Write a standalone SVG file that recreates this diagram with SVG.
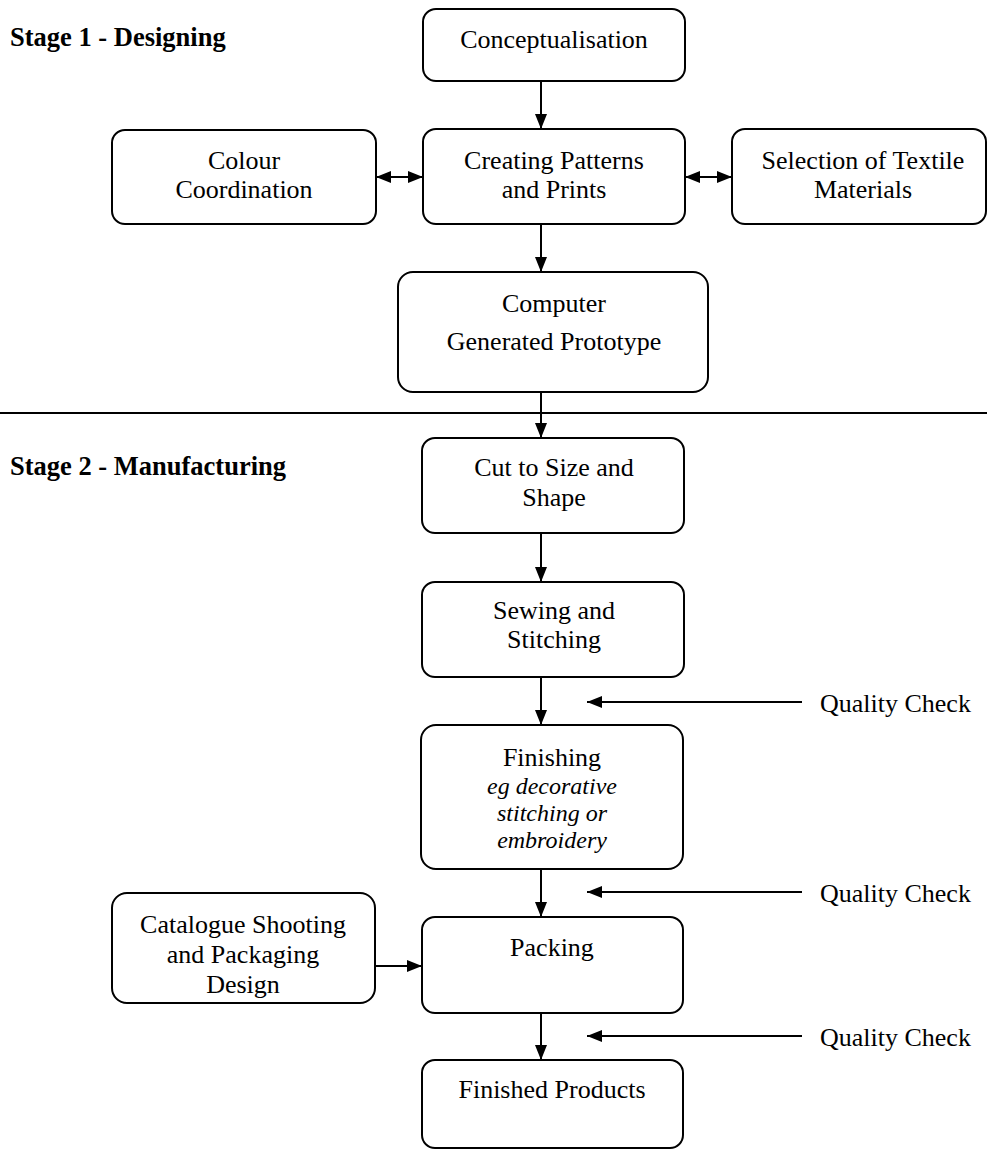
<svg xmlns="http://www.w3.org/2000/svg" width="987" height="1151" viewBox="0 0 987 1151">
  <defs>
    <marker id="arrow" viewBox="0 0 15 12" refX="15" refY="6" markerWidth="15" markerHeight="12" markerUnits="userSpaceOnUse" orient="auto">
      <path d="M0,0 L15,6 L0,12 z" fill="#000"/>
    </marker>
    <marker id="arrowStart" viewBox="0 0 15 12" refX="0" refY="6" markerWidth="15" markerHeight="12" markerUnits="userSpaceOnUse" orient="auto">
      <path d="M15,0 L0,6 L15,12 z" fill="#000"/>
    </marker>
  </defs>
  <style>
    .box { fill: #fff; stroke: #000; stroke-width: 2; }
    .t { font-family: "Liberation Serif", "Times New Roman", serif; font-size: 26px; fill: #000; text-anchor: middle; }
    .ti { font-family: "Liberation Serif", "Times New Roman", serif; font-size: 24px; font-style: italic; fill: #000; text-anchor: middle; }
    .stage { font-family: "Liberation Serif", "Times New Roman", serif; font-size: 26.5px; font-weight: bold; fill: #000; }
    .qc { font-family: "Liberation Serif", "Times New Roman", serif; font-size: 26px; fill: #000; }
    .edge { stroke: #000; stroke-width: 2; fill: none; }
  </style>
  <rect width="987" height="1151" fill="#fff"/>

  <!-- stage headings and divider -->
  <text class="stage" x="10" y="46">Stage 1 - Designing</text>
  <text class="stage" x="10" y="475">Stage 2 - Manufacturing</text>
  <line x1="0" y1="413" x2="987" y2="413" stroke="#000" stroke-width="2"/>

  <g id="conceptualisation">
    <rect class="box" x="423" y="9" width="262" height="72" rx="13"/>
    <text class="t" x="554" y="48">Conceptualisation</text>
  </g>
  <g id="creating-patterns">
    <rect class="box" x="423" y="129" width="262" height="95" rx="13"/>
    <text class="t" x="554" y="169">Creating Patterns</text>
    <text class="t" x="554" y="198">and Prints</text>
  </g>
  <g id="colour-coordination">
    <rect class="box" x="112" y="130" width="264" height="94" rx="13"/>
    <text class="t" x="244" y="169">Colour</text>
    <text class="t" x="244" y="198">Coordination</text>
  </g>
  <g id="textile-materials">
    <rect class="box" x="732" y="129" width="254" height="95" rx="13"/>
    <text class="t" x="863" y="169">Selection of Textile</text>
    <text class="t" x="863" y="198">Materials</text>
  </g>
  <g id="prototype">
    <rect class="box" x="398" y="272" width="310" height="120" rx="15"/>
    <text class="t" x="554" y="312">Computer</text>
    <text class="t" x="554" y="350">Generated Prototype</text>
  </g>
  <g id="cut">
    <rect class="box" x="422" y="438" width="262" height="95" rx="13"/>
    <text class="t" x="554" y="476">Cut to Size and</text>
    <text class="t" x="554" y="506">Shape</text>
  </g>
  <g id="sewing">
    <rect class="box" x="422" y="582" width="262" height="95" rx="13"/>
    <text class="t" x="554" y="619">Sewing and</text>
    <text class="t" x="554" y="648">Stitching</text>
  </g>
  <g id="finishing">
    <rect class="box" x="421" y="725" width="262" height="144" rx="15"/>
    <text class="t" x="552" y="766">Finishing</text>
    <text class="ti" x="552" y="794">eg decorative</text>
    <text class="ti" x="552" y="821">stitching or</text>
    <text class="ti" x="552" y="848">embroidery</text>
  </g>
  <g id="catalogue">
    <rect class="box" x="112" y="893" width="263" height="110" rx="15"/>
    <text class="t" x="243" y="933">Catalogue Shooting</text>
    <text class="t" x="243" y="963">and Packaging</text>
    <text class="t" x="243" y="993">Design</text>
  </g>
  <g id="packing">
    <rect class="box" x="422" y="917" width="261" height="96" rx="13"/>
    <text class="t" x="552" y="956">Packing</text>
  </g>
  <g id="finished-products">
    <rect class="box" x="422" y="1060" width="261" height="88" rx="13"/>
    <text class="t" x="552" y="1098">Finished Products</text>
  </g>

  <g id="quality-checks">
    <text class="qc" x="820" y="712">Quality Check</text>
    <text class="qc" x="820" y="902">Quality Check</text>
    <text class="qc" x="820" y="1046">Quality Check</text>
  </g>

  <g id="connectors">
    <line class="edge" x1="541" y1="81" x2="541" y2="129" marker-end="url(#arrow)"/>
    <line class="edge" x1="376" y1="177" x2="423" y2="177" marker-start="url(#arrowStart)" marker-end="url(#arrow)"/>
    <line class="edge" x1="685" y1="177" x2="732" y2="177" marker-start="url(#arrowStart)" marker-end="url(#arrow)"/>
    <line class="edge" x1="541" y1="224" x2="541" y2="272" marker-end="url(#arrow)"/>
    <line class="edge" x1="541" y1="392" x2="541" y2="438" marker-end="url(#arrow)"/>
    <line class="edge" x1="541" y1="533" x2="541" y2="582" marker-end="url(#arrow)"/>
    <line class="edge" x1="541" y1="677" x2="541" y2="725" marker-end="url(#arrow)"/>
    <line class="edge" x1="541" y1="869" x2="541" y2="917" marker-end="url(#arrow)"/>
    <line class="edge" x1="541" y1="1013" x2="541" y2="1060" marker-end="url(#arrow)"/>
    <line class="edge" x1="375" y1="966" x2="422" y2="966" marker-end="url(#arrow)"/>
    <line class="edge" x1="802" y1="702" x2="587" y2="702" marker-end="url(#arrow)"/>
    <line class="edge" x1="802" y1="892" x2="587" y2="892" marker-end="url(#arrow)"/>
    <line class="edge" x1="802" y1="1036" x2="587" y2="1036" marker-end="url(#arrow)"/>
  </g>
</svg>
